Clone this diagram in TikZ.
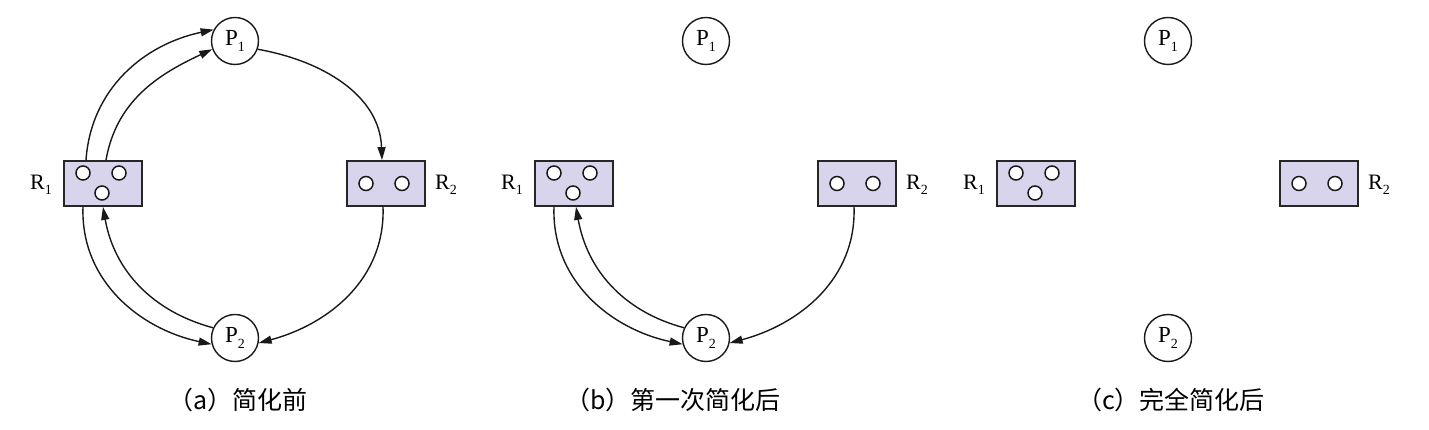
\documentclass[tikz,border=0pt]{standalone}
\usepackage{fontspec}
\setmainfont{Liberation Serif}
\newfontfamily\cjk{Noto Sans CJK SC}
\usetikzlibrary{arrows.meta}
\definecolor{resfill}{RGB}{216,212,236}
\newcommand\plab[2]{#1\raisebox{-0.22em}{\fontsize{14}{14}\selectfont #2}}
\tikzset{
  res/.style={draw=black!85, line width=1.8pt, fill=resfill, minimum width=78pt, minimum height=45pt, inner sep=0pt},
  proc/.style={circle, draw=black!90, line width=1.4pt, minimum size=47pt, inner sep=0pt, font=\fontsize{23}{23}\selectfont},
  tok/.style={circle, draw=black!90, line width=1.5pt, fill=white, minimum size=14pt, inner sep=0pt},
  arr/.style={line width=1.4pt, draw=black!90, -{Triangle[length=13pt,width=8pt]}},
  rlab/.style={font=\fontsize{22}{22}\selectfont, inner sep=0pt},
  capt/.style={font=\cjk\fontsize{25}{25}\selectfont, anchor=west, inner sep=0pt},
}
\newcommand\drawpanel[2]{%
  \begin{scope}[xshift=#2pt]
    \node[proc] (#1P1) at (235,389) {\plab{P}{1}};
    \node[proc] (#1P2) at (235,92) {\plab{P}{2}};
    \node[res] (#1R1) at (103,246.5) {};
    \node[res] (#1R2) at (386,246.5) {};
    \node[tok] (#1t1) at (83,257) {};
    \node[tok] (#1t2) at (119,257) {};
    \node[tok] (#1t3) at (102,237) {};
    \node[tok] (#1t4) at (366,246.5) {};
    \node[tok] (#1t5) at (402,246.5) {};
    \node[rlab] (#1L1) at (41,245) {\plab{R}{1}};
    \node[rlab] (#1L2) at (446,245) {\plab{R}{2}};
  \end{scope}}
\begin{document}
\begin{tikzpicture}[x=1pt,y=1pt]
  \useasboundingbox (0,0) rectangle (1429,430);
  \drawpanel{a}{0}
  \drawpanel{b}{471}
  \drawpanel{c}{933}
  % panel (a) arrows
  \draw[arr] ([xshift=-17pt]aR1.north) to[out=86, in=192] (aP1.152);
  \draw[arr] ([xshift=3pt]aR1.north) to[out=80, in=205] (aP1.200);
  \draw[arr] (aP1.-20) to[out=-10, in=92] ([xshift=-4pt]aR2.north);
  \draw[arr] ([xshift=-3pt]aR2.south) to[out=-88, in=15] (aP2.-12);
  \draw[arr] ([xshift=-20pt]aR1.south) to[out=-92, in=168] (aP2.195);
  \draw[arr] (aP2.155) to[out=165, in=-80] (aR1.south);
  % panel (b) arrows
  \draw[arr] ([xshift=-3pt]bR2.south) to[out=-88, in=15] (bP2.-12);
  \draw[arr] ([xshift=-20pt]bR1.south) to[out=-92, in=168] (bP2.195);
  \draw[arr] (bP2.155) to[out=165, in=-80] ([xshift=2pt]bR1.south);
  % captions
  \node[capt] (capa) at (168,30) {（a）简化前};
  \node[capt] (capb) at (565,30) {（b）第一次简化后};
  \node[capt] (capc) at (1077,30) {（c）完全简化后};
\end{tikzpicture}
\end{document}
